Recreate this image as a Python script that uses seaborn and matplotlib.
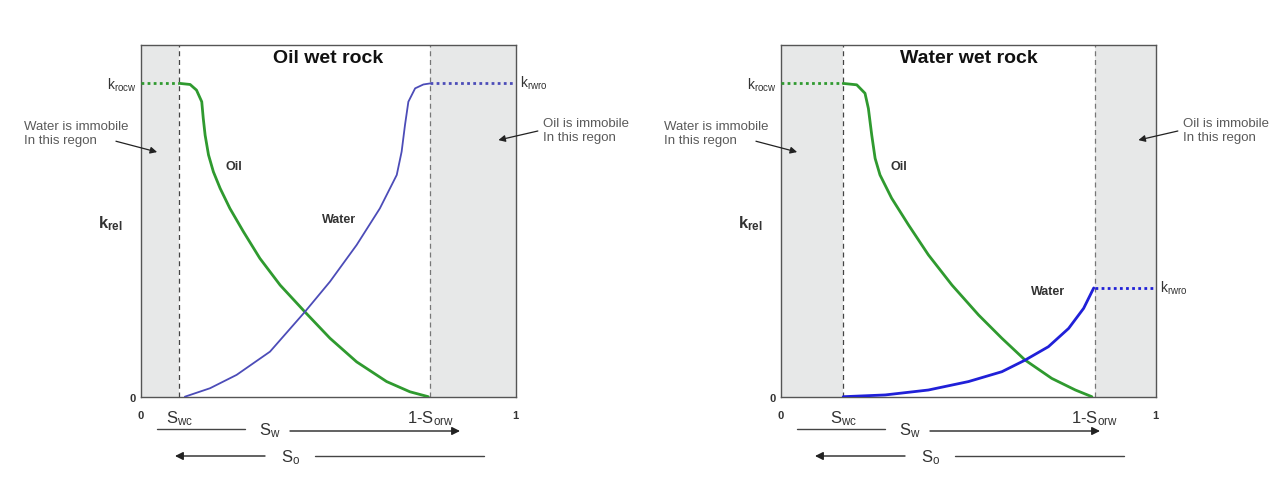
import numpy as np
import pandas as pd
import matplotlib
matplotlib.use("Agg")
import matplotlib.pyplot as plt
import seaborn as sns

sns.set_theme(style="white")
plt.rcParams['font.family'] = ['Liberation Sans', 'DejaVu Sans']
plt.rcParams['mathtext.fontset'] = 'custom'
plt.rcParams['mathtext.rm'] = 'Liberation Sans'
plt.rcParams['mathtext.bf'] = 'Liberation Sans:bold'

# ---------------- data ----------------
titles = ["Oil wet rock", "Water wet rock"]
swc = [0.102, 0.166]          # connate water saturation
one_minus_sorw = [0.771, 0.836]
krocw = [0.89, 0.89]
krwro = [0.89, 0.309]

oil_x_left = [0.104, 0.131, 0.148, 0.162, 0.166, 0.171, 0.180, 0.193, 0.211, 0.237, 0.273, 0.317,
              0.371, 0.437, 0.504, 0.575, 0.655, 0.717, 0.766]
oil_y_left = [0.890, 0.887, 0.871, 0.838, 0.791, 0.743, 0.687, 0.639, 0.592, 0.535, 0.469, 0.393,
              0.317, 0.241, 0.166, 0.099, 0.043, 0.014, 0.0]
wat_x_left = [0.117, 0.184, 0.255, 0.344, 0.437, 0.504, 0.575, 0.637, 0.682, 0.695, 0.704, 0.713,
              0.731, 0.753, 0.771]
wat_y_left = [0.0, 0.024, 0.062, 0.128, 0.241, 0.327, 0.431, 0.535, 0.630, 0.696, 0.772, 0.838,
              0.876, 0.887, 0.890]

oil_x_right = [0.166, 0.202, 0.224, 0.233, 0.242, 0.251, 0.264, 0.295, 0.340, 0.393, 0.456, 0.527,
               0.589, 0.651, 0.722, 0.785, 0.829]
oil_y_right = [0.890, 0.886, 0.862, 0.819, 0.743, 0.677, 0.630, 0.564, 0.488, 0.403, 0.317, 0.232,
               0.166, 0.104, 0.052, 0.019, 0.0]
wat_x_right = [0.166, 0.278, 0.393, 0.500, 0.589, 0.651, 0.713, 0.767, 0.807, 0.834]
wat_y_right = [0.0, 0.005, 0.019, 0.043, 0.071, 0.104, 0.142, 0.194, 0.251, 0.309]

oil_x = [oil_x_left, oil_x_right]
oil_y = [oil_y_left, oil_y_right]
wat_x = [wat_x_left, wat_x_right]
wat_y = [wat_y_left, wat_y_right]

oil_label_pos = [(0.224, 0.653), (0.291, 0.653)]
wat_label_pos = [(0.482, 0.502), (0.667, 0.298)]

GREEN = "#2f9a2f"
BLUES = ["#4c4cb8", "#2020d8"]
GRAYFILL = "#e7e8e8"
FRAME = "#555555"
TXT = "#333333"
NOTE = "#5a5a5a"

W, H = 1285, 482
fig = plt.figure(figsize=(W / 100, H / 100), dpi=100)
fig.patch.set_facecolor("white")

ax_px = [(141, 516), (781, 1156)]
top_px, bot_px = 44.7, 396.7

def fx(px):
    return px / W

def fy(py):
    return 1 - py / H

for i in range(2):
    l, r = ax_px[i]
    ax = fig.add_axes([fx(l), fy(bot_px), fx(r) - fx(l), fy(top_px) - fy(bot_px)])
    ax.set_xlim(0, 1)
    ax.set_ylim(0, 1)
    ax.set_facecolor("white")
    for s in ax.spines.values():
        s.set_color(FRAME)
        s.set_linewidth(1.0)

    # immobile regions
    ax.axvspan(0, swc[i], color=GRAYFILL, zorder=0, lw=0)
    ax.axvspan(one_minus_sorw[i], 1, color=GRAYFILL, zorder=0, lw=0)
    ax.axvline(swc[i], color="#444444", ls=(0, (4, 3)), lw=0.9, zorder=1)
    ax.axvline(one_minus_sorw[i], color="#777777", ls=(0, (4, 3)), lw=0.9, zorder=1)

    # curves
    df_o = pd.DataFrame({"Sw": oil_x[i], "kr": oil_y[i]})
    df_w = pd.DataFrame({"Sw": wat_x[i], "kr": wat_y[i]})
    sns.lineplot(data=df_o, x="Sw", y="kr", ax=ax, color=GREEN, lw=2.0, sort=False, zorder=3)
    sns.lineplot(data=df_w, x="Sw", y="kr", ax=ax, color=BLUES[i], lw=1.3 if i == 0 else 2.0,
                 sort=False, zorder=3)
    for ln in ax.lines:
        ln.set_solid_joinstyle("round")
    # end-point dotted lines
    ax.plot([0, swc[i]], [krocw[i], krocw[i]], color=GREEN, ls=(0, (1, 1.2)), lw=2.0, zorder=3)
    ax.plot([one_minus_sorw[i], 1], [krwro[i], krwro[i]], color=BLUES[i], ls=(0, (1, 1.2)),
            lw=2.0, zorder=3)

    ax.set_xlabel("")
    ax.set_ylabel("")
    ax.set_xticks([0, swc[i], one_minus_sorw[i], 1])
    ax.set_xticklabels([r"$\mathbf{0}$", r"$\mathregular{S_{wc}}$", r"$\mathregular{1\text{-}S_{orw}}$",
                        r"$\mathbf{1}$"])
    ax.set_yticks([0, krocw[i]])
    ax.set_yticklabels([r"$\mathbf{0}$", r"$\mathregular{k_{rocw}}$"])
    ax.tick_params(axis="both", length=0, labelsize=10, colors=TXT)
    ax.tick_params(axis="x", pad=9)
    ax.tick_params(axis="y", pad=3)
    for lab in ax.get_xticklabels()[1:3]:
        lab.set_fontsize(12)
    ax.get_yticklabels()[0].set_fontsize(8)
    ax.get_xticklabels()[0].set_fontsize(8)
    ax.get_xticklabels()[3].set_fontsize(8)

    ax.text(0.5, 0.962, titles[i], transform=ax.transAxes, ha="center", va="center",
            fontsize=14, fontweight="bold", color="#111111")
    ax.text(1.012, krwro[i], r"$\mathregular{k_{rwro}}$", transform=ax.get_yaxis_transform(),
            ha="left", va="center", fontsize=10, color=TXT)
    ax.text(*oil_label_pos[i], "Oil", ha="left", va="center", fontsize=9, fontweight="bold",
            color=TXT)
    ax.text(*wat_label_pos[i], "Water", ha="left", va="center", fontsize=9, fontweight="bold",
            color=TXT)

    # k_rel label
    fig.text(fx(l - 31), fy(224), r"$\mathbf{k_{rel}}$", ha="center", va="center",
             fontsize=12, color=TXT)

    # immobile annotations
    ax.annotate("Water is immobile\nIn this regon", xy=(0.043, 0.695), xycoords="data",
                xytext=(fx(l - 117), fy(134)), textcoords="figure fraction",
                ha="left", va="center", fontsize=9.5, color=NOTE,
                arrowprops=dict(arrowstyle="-|>", color="#222222", lw=0.9,
                                mutation_scale=10, shrinkA=0, shrinkB=0, patchA=None,
                                relpos=(0.88, 0.22)))
    ax.annotate("Oil is immobile\nIn this regon", xy=(0.953, 0.729), xycoords="data",
                xytext=(fx(r + 27), fy(131)), textcoords="figure fraction",
                ha="left", va="center", fontsize=9.5, color=NOTE,
                arrowprops=dict(arrowstyle="-|>", color="#222222", lw=0.9,
                                mutation_scale=10, shrinkA=0, shrinkB=0, patchA=None,
                                relpos=(-0.06, 0.5)))

    # saturation direction arrows beneath the axis
    off = l - 141
    fig.add_artist(plt.Line2D([fx(157 + off), fx(245 + off)], [fy(429), fy(429)],
                              transform=fig.transFigure, color="#444444", lw=1.0))
    fig.text(fx(270 + off), fy(431), r"$\mathregular{S_w}$", ha="center", va="center",
             fontsize=12, color=TXT)
    ax.annotate("", xy=(fx(460 + off), fy(431)), xytext=(fx(290 + off), fy(431)),
                xycoords="figure fraction", textcoords="figure fraction",
                arrowprops=dict(arrowstyle="-|>", color="#222222", lw=1.0,
                                mutation_scale=12, shrinkA=0, shrinkB=0))
    ax.annotate("", xy=(fx(175 + off), fy(456)), xytext=(fx(265 + off), fy(456)),
                xycoords="figure fraction", textcoords="figure fraction",
                arrowprops=dict(arrowstyle="-|>", color="#222222", lw=1.0,
                                mutation_scale=12, shrinkA=0, shrinkB=0))
    fig.text(fx(291 + off), fy(458), r"$\mathregular{S_o}$", ha="center", va="center",
             fontsize=12, color=TXT)
    fig.add_artist(plt.Line2D([fx(315 + off), fx(484 + off)], [fy(456), fy(456)],
                              transform=fig.transFigure, color="#444444", lw=1.0))

fig.savefig("out.png", dpi=100, facecolor="white")
